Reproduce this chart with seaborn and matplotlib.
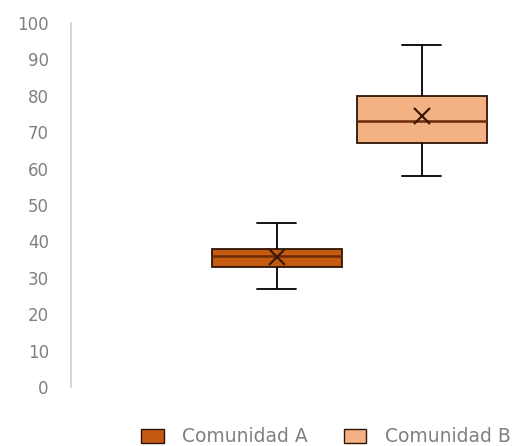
import pandas as pd
import matplotlib
matplotlib.use("Agg")
import matplotlib.pyplot as plt
from matplotlib.patches import Patch
import seaborn as sns

# Valores (mín, Q1, mediana, Q3, máx)
comunidad_a = [27, 33, 36, 38, 45]
comunidad_b = [58, 67, 73, 80, 94]
grupos = ["Comunidad A", "Comunidad B"]
colores = ["#C55A11", "#F4B183"]

datos = pd.DataFrame({
    "grupo": [grupos[0]] * len(comunidad_a) + [grupos[1]] * len(comunidad_b),
    "valor": comunidad_a + comunidad_b,
})

sns.set_style("white")
plt.rcParams["font.family"] = ["DejaVu Sans"]

fig = plt.figure(figsize=(5.24, 4.46), dpi=100)
ax = fig.add_axes([71 / 524, 1 - 387 / 446, 445 / 524, 364 / 446])

sns.boxplot(data=datos, x="grupo", y="valor", hue="grupo", palette=colores,
            saturation=1, width=0.9, whis=1.5, showmeans=True, legend=False, ax=ax,
            linewidth=1.3, capwidths=0.27,
            boxprops=dict(edgecolor="#2e1406"),
            medianprops=dict(color="#6b2a0a", linewidth=1.8),
            whiskerprops=dict(color="black"),
            capprops=dict(color="black"),
            meanprops=dict(marker="x", markeredgecolor="#3a1a08",
                           markersize=11, markeredgewidth=1.6))

ax.set_ylim(0, 100)
ax.set_xlim(-1.42, 1.65)
ax.set_yticks(range(0, 101, 10))
ax.set_xticks([])
ax.set_xlabel("")
ax.set_ylabel("")
ax.tick_params(axis="y", length=0, pad=16, labelsize=12, labelcolor="#808080")

for lado in ["top", "right", "bottom"]:
    ax.spines[lado].set_visible(False)
ax.spines["left"].set_color("#d0d0d0")
ax.spines["left"].set_linewidth(1.2)

handles = [Patch(facecolor=c, edgecolor="#2e1406", label=g) for c, g in zip(colores, grupos)]
fig.legend(handles=handles, loc="center", bbox_to_anchor=(326 / 524, 1 - 437 / 446), ncol=2,
           frameon=False, fontsize=13.5, labelcolor="#808080",
           handlelength=1.2, handleheight=0.75, columnspacing=1.9, handletextpad=1.0,
           borderpad=0)

fig.savefig("out.png", dpi=100)
